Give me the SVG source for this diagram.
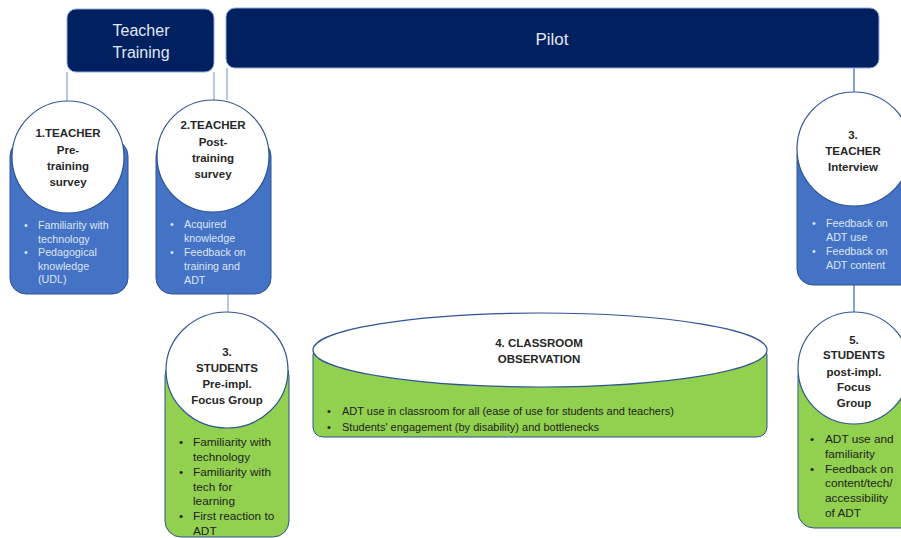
<svg xmlns="http://www.w3.org/2000/svg" width="901" height="538" viewBox="0 0 901 538">
<style>
.hdr{fill:#002060;stroke:#8faadc;stroke-width:1}
.htxt{font-family:"Liberation Sans",Arial,sans-serif;font-size:16px;fill:#e2e8f2;text-anchor:middle}
.blue{fill:#4472c4;stroke:#2f528f;stroke-width:1}
.green{fill:#92d050;stroke:#2f528f;stroke-width:1}
.circ{fill:#ffffff;stroke:#2f5597;stroke-width:1.2}
.ctxt{font-family:"Liberation Sans",Arial,sans-serif;font-size:11.5px;font-weight:bold;fill:#262626;text-anchor:middle}
.wtxt{font-family:"Liberation Sans",Arial,sans-serif;font-size:10.7px;fill:#dce5f5}
.dtxt{font-family:"Liberation Sans",Arial,sans-serif;font-size:11.8px;fill:#1e1e1e}
.conn line{stroke:#8faadc;stroke-width:1.3}
.conn line.dk{stroke:#4472c4}
</style>
<g id="connectors" class="conn">
<line x1="67" y1="72" x2="67" y2="102"/>
<line x1="214" y1="72" x2="214" y2="100"/>
<line x1="227" y1="68" x2="227" y2="100"/>
<line x1="228" y1="294" x2="228" y2="313"/>
<line class="dk" x1="854" y1="68" x2="854" y2="93"/>
<line class="dk" x1="854" y1="285" x2="854" y2="313"/>
</g>
<g id="teacher-training">
<rect class="hdr" x="67" y="9" width="147" height="63" rx="9"/>
<text class="htxt" x="141" y="36">Teacher</text>
<text class="htxt" x="141" y="58">Training</text>
</g>
<g id="pilot">
<rect class="hdr" x="226" y="8" width="653" height="60" rx="9"/>
<text class="htxt" x="552" y="45" style="font-size:17px">Pilot</text>
</g>
<g id="node1">
<rect class="blue" x="10" y="140" width="118" height="154" rx="16"/>
<circle class="circ" cx="68" cy="157" r="56"/>
<text class="ctxt" x="68" y="137">1.TEACHER</text>
<text class="ctxt" x="68" y="154">Pre-</text>
<text class="ctxt" x="68" y="170">training</text>
<text class="ctxt" x="68" y="186">survey</text>
<text class="wtxt"><tspan x="24" y="229">•</tspan><tspan x="38" y="229">Familiarity with</tspan><tspan x="38" y="242.5">technology</tspan><tspan x="24" y="256">•</tspan><tspan x="38" y="256">Pedagogical</tspan><tspan x="38" y="269.5">knowledge</tspan><tspan x="38" y="283">(UDL)</tspan></text>
</g>
<g id="node2">
<rect class="blue" x="156" y="140" width="115" height="154" rx="16"/>
<circle class="circ" cx="213" cy="156" r="56"/>
<text class="ctxt" x="213" y="129">2.TEACHER</text>
<text class="ctxt" x="213" y="146">Post-</text>
<text class="ctxt" x="213" y="162">training</text>
<text class="ctxt" x="213" y="178">survey</text>
<text class="wtxt"><tspan x="170" y="228">•</tspan><tspan x="184" y="228">Acquired</tspan><tspan x="184" y="242">knowledge</tspan><tspan x="170" y="256">•</tspan><tspan x="184" y="256">Feedback on</tspan><tspan x="184" y="270">training and</tspan><tspan x="184" y="284">ADT</tspan></text>
</g>
<g id="node3-students">
<rect class="green" x="165" y="360" width="124" height="177" rx="16"/>
<ellipse class="circ" cx="227" cy="370" rx="61" ry="58"/>
<text class="ctxt" x="227" y="356">3.</text>
<text class="ctxt" x="227" y="372">STUDENTS</text>
<text class="ctxt" x="227" y="388">Pre-impl.</text>
<text class="ctxt" x="227" y="404">Focus Group</text>
<text class="dtxt"><tspan x="179" y="446">•</tspan><tspan x="193" y="446">Familiarity with</tspan><tspan x="193" y="461">technology</tspan><tspan x="179" y="476">•</tspan><tspan x="193" y="476">Familiarity with</tspan><tspan x="193" y="490.5">tech for</tspan><tspan x="193" y="505">learning</tspan><tspan x="179" y="520">•</tspan><tspan x="193" y="520">First reaction to</tspan><tspan x="193" y="534.5">ADT</tspan></text>
</g>
<g id="node4-observation">
<rect class="green" x="313" y="345" width="454" height="92" rx="10"/>
<ellipse class="circ" cx="540" cy="350" rx="227" ry="37"/>
<text class="ctxt" x="539" y="347">4. CLASSROOM</text>
<text class="ctxt" x="539" y="363">OBSERVATION</text>
<text class="dtxt" style="font-size:11px"><tspan x="327" y="415">•</tspan><tspan x="342" y="415">ADT use in classroom for all (ease of use for students and teachers)</tspan><tspan x="327" y="431">•</tspan><tspan x="342" y="431">Students' engagement (by disability) and bottlenecks</tspan></text>
</g>
<g id="node3-teacher">
<rect class="blue" x="797" y="140" width="122" height="145" rx="16"/>
<circle class="circ" cx="854" cy="149" r="57"/>
<text class="ctxt" x="853" y="139">3.</text>
<text class="ctxt" x="853" y="155">TEACHER</text>
<text class="ctxt" x="853" y="171">Interview</text>
<text class="wtxt"><tspan x="812" y="227">•</tspan><tspan x="826" y="227">Feedback on</tspan><tspan x="826" y="241">ADT use</tspan><tspan x="812" y="255">•</tspan><tspan x="826" y="255">Feedback on</tspan><tspan x="826" y="269">ADT content</tspan></text>
</g>
<g id="node5-students">
<rect class="green" x="798" y="360" width="122" height="168" rx="16"/>
<circle class="circ" cx="854" cy="368" r="56"/>
<text class="ctxt" x="854" y="344">5.</text>
<text class="ctxt" x="854" y="359">STUDENTS</text>
<text class="ctxt" x="854" y="376">post-impl.</text>
<text class="ctxt" x="854" y="391">Focus</text>
<text class="ctxt" x="854" y="407">Group</text>
<text class="dtxt"><tspan x="810" y="443">•</tspan><tspan x="825" y="443">ADT use and</tspan><tspan x="825" y="458">familiarity</tspan><tspan x="810" y="473">•</tspan><tspan x="825" y="473">Feedback on</tspan><tspan x="825" y="487">content/tech/</tspan><tspan x="825" y="502">accessibility</tspan><tspan x="825" y="517">of ADT</tspan></text>
</g>
</svg>
